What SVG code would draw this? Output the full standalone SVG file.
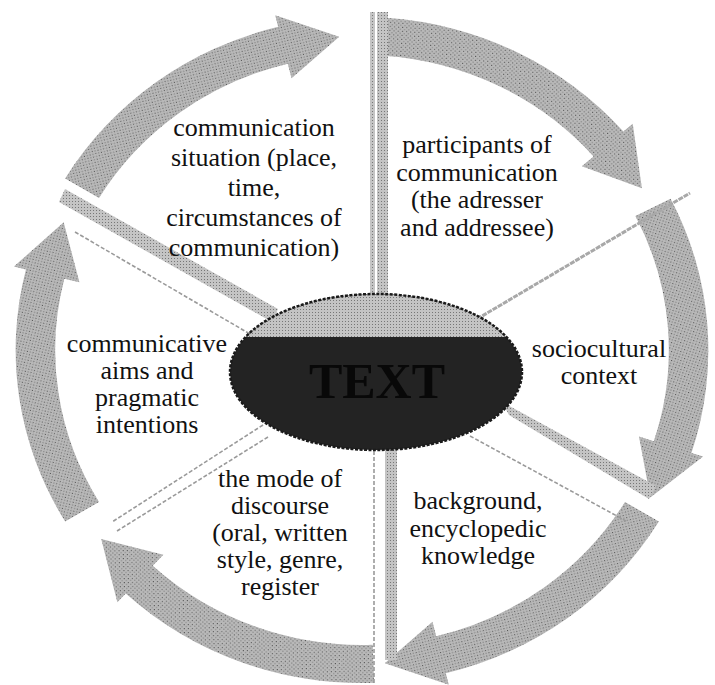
<svg xmlns="http://www.w3.org/2000/svg" width="715" height="685" viewBox="0 0 715 685">
  <style>
    .arrow { fill: url(#ht); }
    .band { fill: url(#ht2); }
    .thin { fill: none; stroke: #9a9a9a; stroke-width: 1.6; stroke-dasharray: 4 2; }
    .lbl { font-family: 'Liberation Serif', 'Times New Roman', serif; font-size: 26px; fill: #111; text-anchor: middle; }
    .core { font-family: 'Liberation Serif', 'Times New Roman', serif; font-size: 50px; font-weight: bold; fill: #080808; text-anchor: middle; }
  </style>
  <defs>
    <pattern id="ht" width="4" height="4" patternUnits="userSpaceOnUse">
      <rect width="4" height="4" fill="#b8b8b8"/>
      <rect x="0" y="0" width="1" height="1" fill="#555"/>
      <rect x="2" y="2" width="1" height="1" fill="#777"/>
    </pattern>
    <pattern id="ht2" width="3" height="3" patternUnits="userSpaceOnUse">
      <rect width="3" height="3" fill="#c4c4c4"/>
      <rect x="0" y="0" width="1" height="1" fill="#777"/>
    </pattern>
    <path id="arc" d="M333,0 A333,333 0 0 1 235.5,235.5 L243.9,243.9 L180.1,257.2 L198.0,198.0 L208.6,208.6 A295,295 0 0 0 295,0 Z"/>
    <clipPath id="capClip"><rect x="200" y="280" width="350" height="57"/></clipPath>
  </defs>
  <rect width="715" height="685" fill="#fff"/>

  <g id="connectors">
    <!-- cycle arrows -->
    <use href="#arc" class="arrow" transform="translate(362,350) scale(1.04,1) rotate(211)"/>
    <use href="#arc" class="arrow" transform="translate(362,350) scale(1.04,1) rotate(274)"/>
    <use href="#arc" class="arrow" transform="translate(362,350) scale(1.04,1) rotate(333)"/>
    <use href="#arc" class="arrow" transform="translate(362,350) scale(1.04,1) rotate(31)"/>
    <use href="#arc" class="arrow" transform="translate(362,350) scale(1.04,1) rotate(88)"/>
    <use href="#arc" class="arrow" transform="translate(362,350) scale(1.04,1) rotate(149)"/>
    <!-- spokes -->
    <rect class="band" x="370" y="12" width="18" height="290"/>
    <rect x="375" y="12" width="2" height="290" fill="#fff"/>
    <line class="thin" x1="374" y1="445" x2="374" y2="683" stroke-dasharray="2 2" stroke-width="2"/>
    <rect class="band" x="385" y="445" width="12" height="215"/>
    <path class="band" d="M59,202 L65,189 L278,309 L272,322 Z"/>
    <line class="thin" x1="75" y1="232" x2="262" y2="341"/>
    <line x1="472" y1="322" x2="690" y2="193" stroke="#a8a8a8" stroke-width="3" stroke-dasharray="5 1"/>
    <path class="band" d="M502,402 L509,415 L649,499 L656,486 Z"/>
    <line class="thin" x1="470" y1="436" x2="628" y2="522"/>
    <line class="thin" x1="263" y1="425" x2="112" y2="522"/>
    <line class="thin" x1="268" y1="437" x2="117" y2="531"/>
  </g>

  <g id="text-core">
    <ellipse cx="376" cy="372" rx="146" ry="78" fill="#232323"/>
    <ellipse cx="376" cy="372" rx="146" ry="78" fill="url(#ht2)" clip-path="url(#capClip)"/>
    <ellipse cx="376" cy="372" rx="146" ry="78" fill="none" stroke="#1a1a1a" stroke-width="2.5" stroke-dasharray="3 1.5"/>
    <text class="core" x="377" y="398">TEXT</text>
  </g>

  <g id="communication-situation">
    <text class="lbl" x="254" y="136">communication</text>
    <text class="lbl" x="254" y="166">situation (place,</text>
    <text class="lbl" x="254" y="196">time,</text>
    <text class="lbl" x="254" y="226">circumstances of</text>
    <text class="lbl" x="254" y="256">communication)</text>
  </g>

  <g id="participants">
    <text class="lbl" x="477" y="153">participants of</text>
    <text class="lbl" x="477" y="181">communication</text>
    <text class="lbl" x="477" y="208">(the adresser</text>
    <text class="lbl" x="477" y="236">and addressee)</text>
  </g>

  <g id="sociocultural">
    <text class="lbl" x="599" y="357">sociocultural</text>
    <text class="lbl" x="599" y="384">context</text>
  </g>

  <g id="background">
    <text class="lbl" x="478" y="509">background,</text>
    <text class="lbl" x="478" y="537">encyclopedic</text>
    <text class="lbl" x="478" y="564">knowledge</text>
  </g>

  <g id="mode-of-discourse">
    <text class="lbl" x="280" y="487">the mode of</text>
    <text class="lbl" x="280" y="514">discourse</text>
    <text class="lbl" x="280" y="541">(oral, written</text>
    <text class="lbl" x="280" y="568">style,  genre,</text>
    <text class="lbl" x="280" y="595">register</text>
  </g>

  <g id="communicative-aims">
    <text class="lbl" x="147" y="352">communicative</text>
    <text class="lbl" x="147" y="379">aims and</text>
    <text class="lbl" x="147" y="406">pragmatic</text>
    <text class="lbl" x="147" y="433">intentions</text>
  </g>
</svg>
